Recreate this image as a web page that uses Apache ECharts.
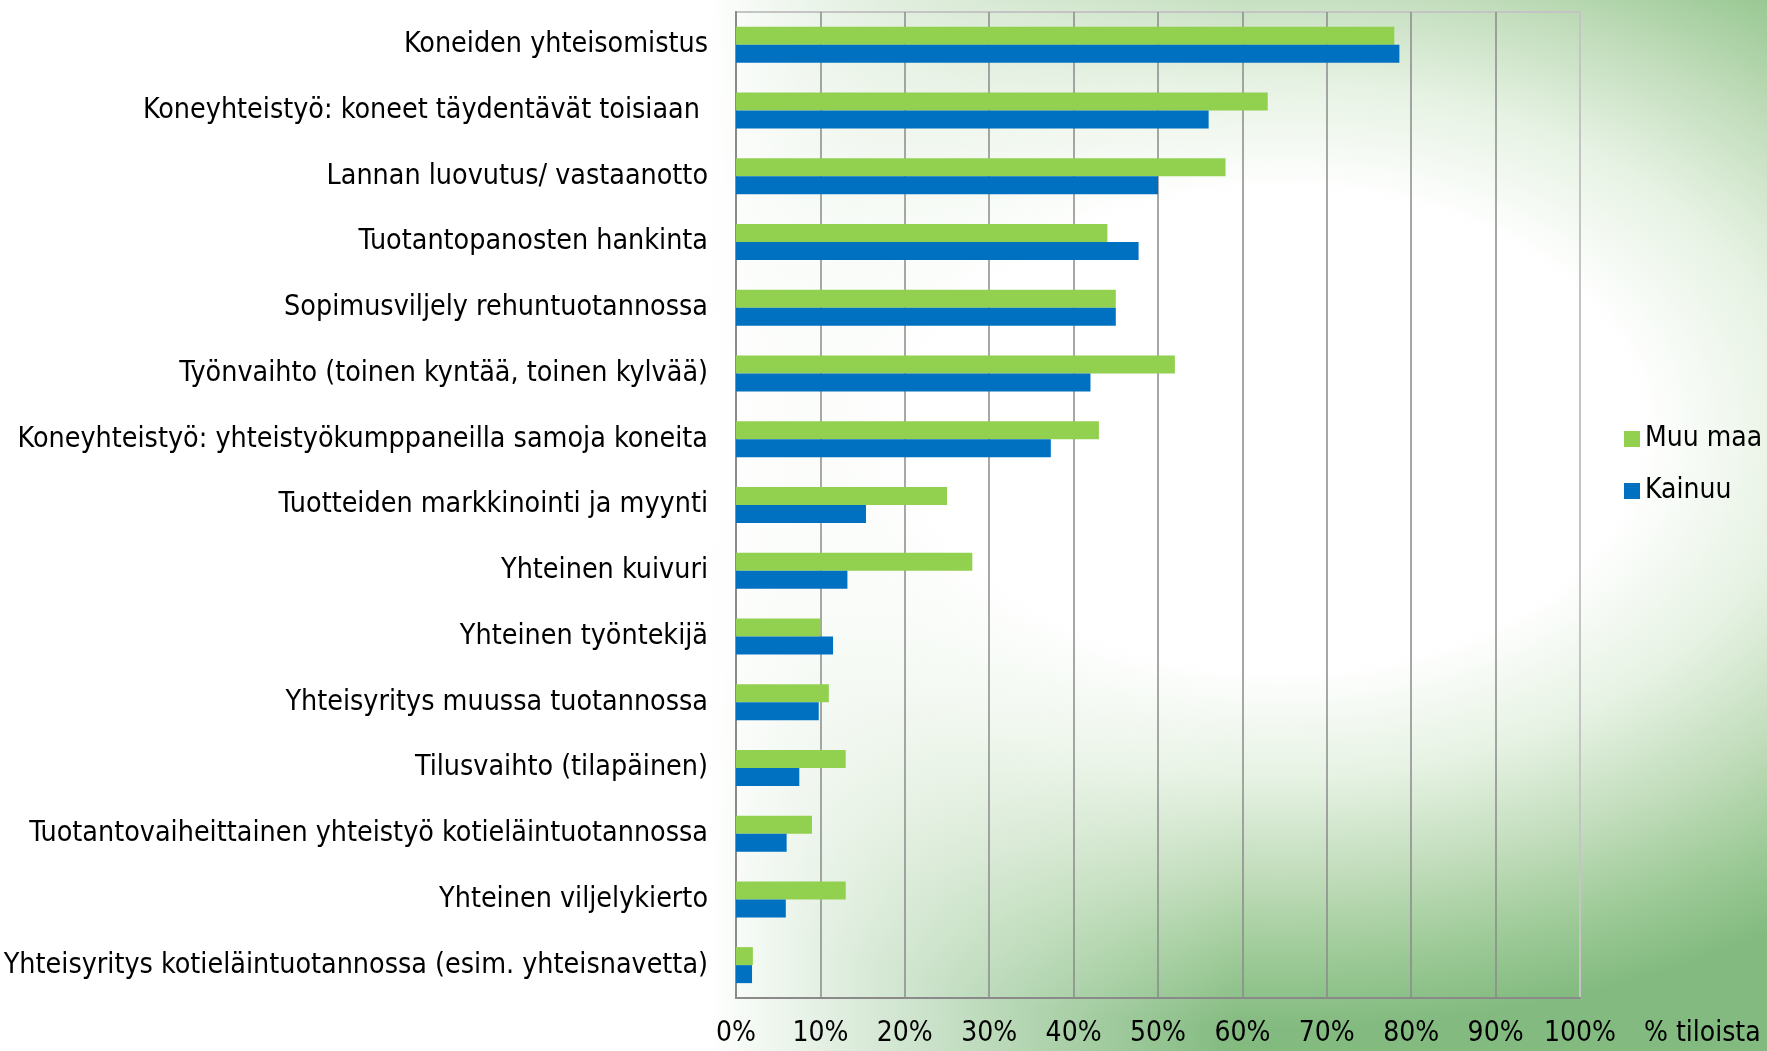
<!DOCTYPE html>
<html>
<head>
<meta charset="utf-8">
<title>Yhteistyömuodot</title>
<script src="https://cdn.jsdelivr.net/npm/echarts@6/dist/echarts.min.js"></script>
<style>
  html, body { margin: 0; padding: 0; }
  #chart {
    width: 1767px;
    height: 1051px;
    /* taustan vihreä pyörre, karkea arvio */
    background:
      linear-gradient(to right, #fff 0%, #fff 40%, rgba(255,255,255,0) 70%),
      radial-gradient(ellipse 900px 600px at 1280px 430px, #fff 0%, #fff 40%, #e6f2e3 58%, #c2ddbc 74%, #9dca97 88%, #82ba7f 100%),
      #7db87a;
  }
</style>
</head>
<body>
<div id="chart"></div>
<script>
// kategoriat ylhäältä alas
var categories = [
  'Koneiden yhteisomistus',
  'Koneyhteistyö: koneet täydentävät toisiaan ',
  'Lannan luovutus/ vastaanotto',
  'Tuotantopanosten hankinta',
  'Sopimusviljely rehuntuotannossa',
  'Työnvaihto (toinen kyntää, toinen kylvää)',
  'Koneyhteistyö: yhteistyökumppaneilla samoja koneita',
  'Tuotteiden markkinointi ja myynti',
  'Yhteinen kuivuri',
  'Yhteinen työntekijä',
  'Yhteisyritys muussa tuotannossa',
  'Tilusvaihto (tilapäinen)',
  'Tuotantovaiheittainen yhteistyö kotieläintuotannossa',
  'Yhteinen viljelykierto',
  'Yhteisyritys kotieläintuotannossa (esim. yhteisnavetta)'
];
var muuMaa = [78, 63, 58, 44, 45, 52, 43, 25, 28, 10, 11, 13, 9, 13, 2];
var kainuu = [78.6, 56, 50, 47.7, 45, 42, 37.3, 15.4, 13.2, 11.5, 9.8, 7.5, 6, 5.9, 1.9];
var xTicks = [0, 10, 20, 30, 40, 50, 60, 70, 80, 90, 100];

var font = '"DejaVu Sans Condensed", "DejaVu Sans", sans-serif';
var chart = echarts.init(document.getElementById('chart'));

chart.setOption({
  backgroundColor: 'transparent',
  textStyle: { fontFamily: font },
  grid: {
    left: 736, right: 187, top: 12, bottom: 53,
    outerBoundsMode: 'none',
    show: true,
    borderColor: '#c4c4c4',
    borderWidth: 2,
    backgroundColor: 'transparent'
  },
  legend: {
    orient: 'vertical',
    left: 1619,
    top: 418,
    itemWidth: 16,
    itemHeight: 16,
    itemGap: 20,
    icon: 'rect',
    textStyle: { fontSize: 28, color: '#000', fontFamily: font, lineHeight: 32 },
    data: ['Muu maa', 'Kainuu']
  },
  xAxis: {
    type: 'value',
    min: 0,
    max: 100,
    interval: 10,
    name: '% tiloista',
    nameLocation: 'end',
    nameGap: 64,
    nameTextStyle: {
      fontSize: 28, color: '#000', fontFamily: font,
      align: 'left', verticalAlign: 'top', padding: [22, 0, 0, 0]
    },
    axisLine: { show: true, lineStyle: { color: '#8a8a8a', width: 2 } },
    axisTick: { show: false },
    axisLabel: {
      margin: 22,
      fontSize: 28,
      color: '#000',
      fontFamily: font,
      formatter: function (v) { return xTicks.indexOf(v) >= 0 ? v + '%' : ''; }
    },
    splitLine: { show: true, showMaxLine: false, lineStyle: { color: '#8a8a8a', width: 1.5 } }
  },
  yAxis: {
    type: 'category',
    inverse: true,
    data: categories,
    axisLine: { show: true, lineStyle: { color: '#8a8a8a', width: 2 } },
    axisTick: { show: false },
    axisLabel: { margin: 28, fontSize: 28.4, color: '#000', fontFamily: font }
  },
  series: [
    {
      name: 'Muu maa',
      type: 'bar',
      data: muuMaa,
      barWidth: 18,
      barGap: '0%',
      itemStyle: { color: '#92D050' },
      z: 3
    },
    {
      name: 'Kainuu',
      type: 'bar',
      data: kainuu,
      barWidth: 18,
      barGap: '0%',
      itemStyle: { color: '#0070C0' },
      z: 3
    }
  ]
});
</script>
</body>
</html>
